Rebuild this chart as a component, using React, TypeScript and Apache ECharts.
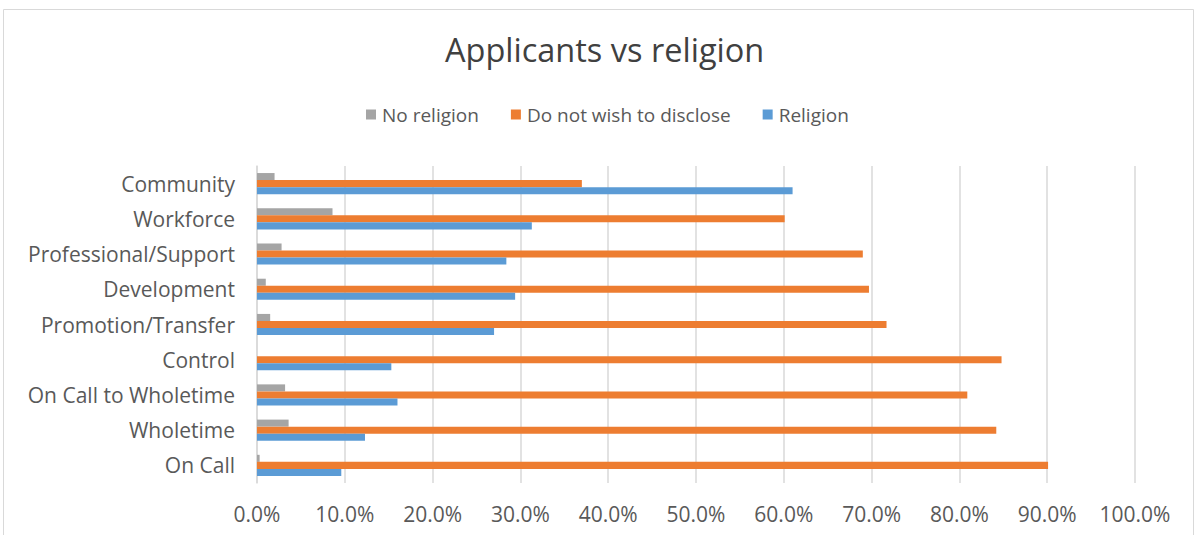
import React, { useEffect, useRef } from "react";
import * as echarts from "echarts";

const categories = [
  "On Call",
  "Wholetime",
  "On Call to Wholetime",
  "Control",
  "Promotion/Transfer",
  "Development",
  "Professional/Support",
  "Workforce",
  "Community",
];
const noReligion = [0.3, 3.6, 3.2, 0, 1.5, 1.0, 2.8, 8.6, 2.0];
const notDisclose = [90.1, 84.2, 80.9, 84.8, 71.7, 69.7, 69.0, 60.1, 37.0];
const religion = [9.6, 12.3, 16.0, 15.3, 27.0, 29.4, 28.4, 31.3, 61.0];
const seriesNames = ["No religion", "Do not wish to disclose", "Religion"];
const colors = ["#A5A5A5", "#ED7D31", "#5B9BD5"];

const FONT = "'Open Sans', 'Noto Sans', sans-serif";

export default function App() {
  const ref = useRef<HTMLDivElement>(null);
  useEffect(() => {
    if (!ref.current) return;
    const chart = echarts.init(ref.current, null, { renderer: "svg" });
    const datas = [noReligion, notDisclose, religion];
    chart.setOption({
      animation: false,
      backgroundColor: "#FFFFFF",
      title: {
        text: "Applicants vs religion",
        left: 440,
        top: 28,
        textStyle: { fontFamily: FONT, fontSize: 32.5, fontWeight: "normal", color: "#404040" },
      },
      legend: {
        data: seriesNames,
        top: 100,
        left: 361,
        itemWidth: 10,
        itemHeight: 10,
        itemGap: 32,
        icon: "rect",
        textStyle: { fontFamily: FONT, fontSize: 19, color: "#595959", padding: [0, 0, 0, 1] },
      },
      grid: { left: 257, right: 61, top: 166, bottom: 52, containLabel: false },
      xAxis: {
        type: "value",
        min: 0,
        max: 100,
        interval: 10,
        axisLine: { show: false },
        axisTick: { show: false },
        splitLine: { lineStyle: { color: "#D9D9D9", width: 1.5 } },
        axisLabel: {
          fontFamily: FONT,
          fontSize: 21,
          color: "#595959",
          margin: 20,
          formatter: (v: number) => v.toFixed(1) + "%",
        },
      },
      yAxis: {
        type: "category",
        data: categories,
        axisLine: { show: true, lineStyle: { color: "#D9D9D9", width: 1.5 } },
        axisTick: { show: false },
        axisLabel: { fontFamily: FONT, fontSize: 21, color: "#595959", margin: 22 },
      },
      graphic: [
        {
          type: "rect",
          shape: { x: 3.5, y: 9.5, width: 1190, height: 600 },
          style: { fill: "none", stroke: "#D9D9D9", lineWidth: 1 },
          silent: true,
        },
      ],
      series: [0, 1, 2].map((i) => ({
        name: seriesNames[i],
        type: "bar",
        data: datas[i],
        barGap: "0%",
        barCategoryGap: "40%",
        itemStyle: { color: colors[i] },
      })),
    });
    return () => chart.dispose();
  }, []);
  return (
    <div
      ref={ref}
      style={{ position: "fixed", left: 0, top: 0, width: 1196, height: 535 }}
    />
  );
}
